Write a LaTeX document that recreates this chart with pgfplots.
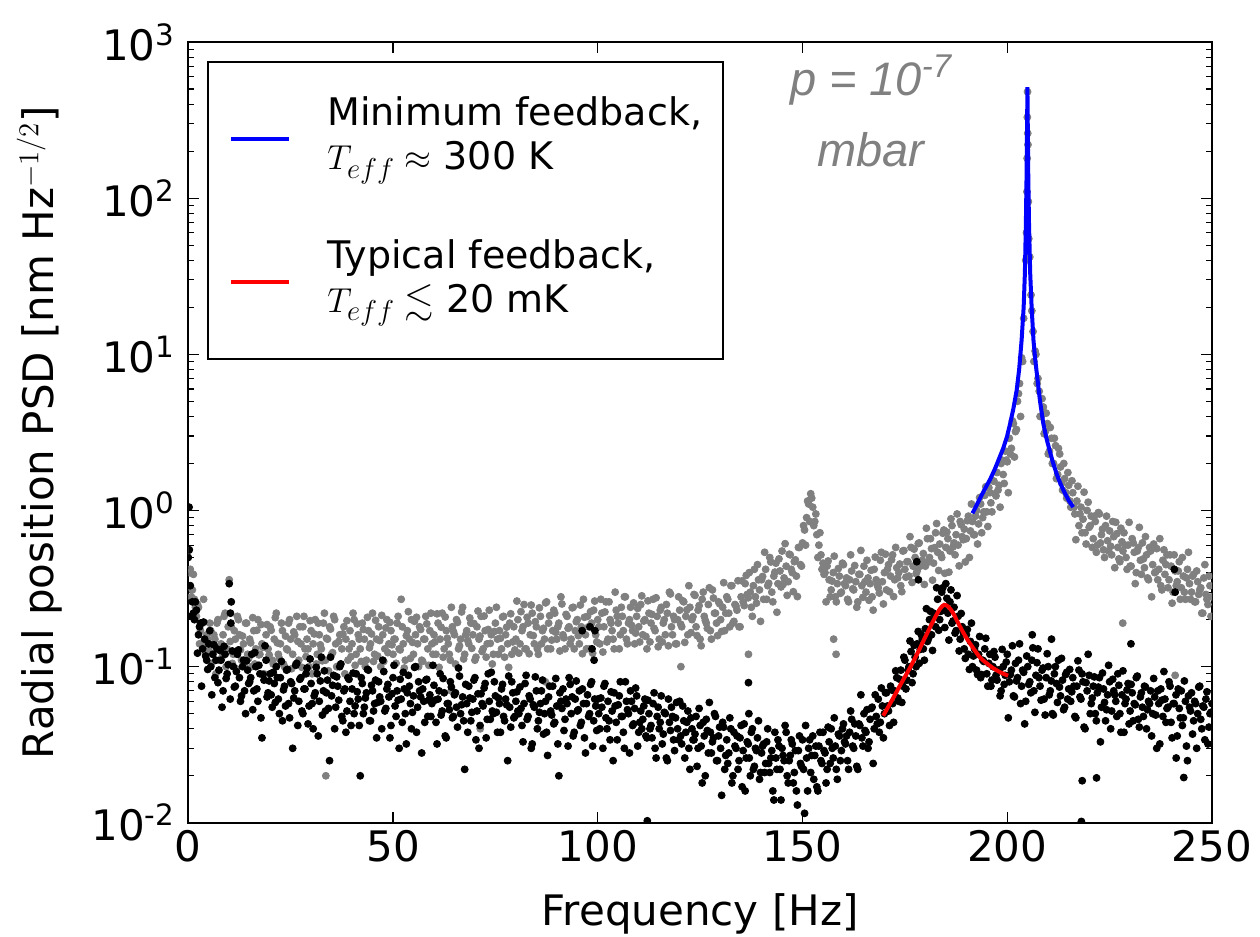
\documentclass[border=0pt]{standalone}
\usepackage{fontspec}
\setmainfont{DejaVu Sans}
\newfontfamily\annfont{Liberation Sans}
\usepackage{amsmath,amssymb}
\usepackage{pgfplots}
\pgfplotsset{compat=1.18}
\usetikzlibrary{calc}
\definecolor{mgray}{RGB}{128,128,128}

% gray: minimum feedback, black: typical feedback
\pgfplotstableread{
f psd
0.0 0.55
0.5 0.42
1.0 0.31
1.5 0.27
2.0 0.21
2.5 0.24
3.0 0.17
3.5 0.19
4.0 0.14
4.5 0.16
5.0 0.13
5.5 0.17
6.0 0.12
6.5 0.15
7.0 0.19
7.5 0.11
8.0 0.14
8.5 0.16
9.0 0.22
9.5 0.13
10.0 0.36
10.5 0.18
11.0 0.12
11.5 0.15
12.0 0.21
12.5 0.16
13.0 0.11
13.5 0.14
14.0 0.19
14.5 0.12
15.0 0.15
15.5 0.10
16.0 0.17
16.5 0.13
17.0 0.20
17.5 0.12
18.0 0.14
18.5 0.09
19.0 0.16
19.5 0.13
20.0 0.18
20.5 0.11
21.0 0.15
21.5 0.22
22.0 0.12
22.5 0.14
23.0 0.17
23.5 0.10
24.0 0.13
24.5 0.19
25.0 0.15
25.5 0.12
26.0 0.16
26.5 0.21
27.0 0.11
27.5 0.14
28.0 0.18
28.5 0.13
29.0 0.15
29.5 0.10
30.0 0.17
30.5 0.14
31.0 0.20
31.5 0.12
32.0 0.16
32.5 0.13
33.0 0.19
33.5 0.11
34.0 0.15
34.5 0.18
35.0 0.12
35.5 0.21
36.0 0.14
36.5 0.10
37.0 0.16
37.5 0.13
38.0 0.18
38.5 0.15
39.0 0.11
39.5 0.17
40.0 0.14
40.5 0.20
41.0 0.12
41.5 0.16
42.0 0.13
42.5 0.19
43.0 0.15
43.5 0.11
44.0 0.17
44.5 0.14
45.0 0.22
45.5 0.12
46.0 0.15
46.5 0.18
47.0 0.10
47.5 0.16
48.0 0.13
48.5 0.20
49.0 0.14
49.5 0.17
50.0 0.12
50.5 0.15
51.0 0.19
51.5 0.13
52.0 0.27
52.5 0.14
53.0 0.11
53.5 0.17
54.0 0.15
54.5 0.20
55.0 0.12
55.5 0.16
56.0 0.14
56.5 0.18
57.0 0.11
57.5 0.15
58.0 0.21
58.5 0.13
59.0 0.17
59.5 0.14
60.0 0.16
60.5 0.12
61.0 0.19
61.5 0.15
62.0 0.22
62.5 0.13
63.0 0.17
63.5 0.14
64.0 0.11
64.5 0.18
65.0 0.16
65.5 0.20
66.0 0.13
66.5 0.15
67.0 0.24
67.5 0.12
68.0 0.17
68.5 0.14
69.0 0.19
69.5 0.16
70.0 0.11
70.5 0.18
71.0 0.15
71.5 0.21
72.0 0.13
72.5 0.17
73.0 0.14
73.5 0.23
74.0 0.16
74.5 0.12
75.0 0.19
75.5 0.15
76.0 0.17
76.5 0.13
77.0 0.21
77.5 0.16
78.0 0.14
78.5 0.19
79.0 0.12
79.5 0.18
80.0 0.15
80.5 0.20
81.0 0.14
81.5 0.17
82.0 0.25
82.5 0.13
83.0 0.19
83.5 0.16
84.0 0.22
84.5 0.14
85.0 0.18
85.5 0.12
86.0 0.21
86.5 0.17
87.0 0.15
87.5 0.26
88.0 0.19
88.5 0.13
89.0 0.17
89.5 0.22
90.0 0.15
90.5 0.19
91.0 0.28
91.5 0.16
92.0 0.13
92.5 0.21
93.0 0.18
93.5 0.15
94.0 0.24
94.5 0.17
95.0 0.20
95.5 0.14
96.0 0.18
96.5 0.27
97.0 0.16
97.5 0.21
98.0 0.13
98.5 0.19
99.0 0.23
99.5 0.16
100.0 0.20
100.5 0.14
101.0 0.22
101.5 0.18
102.0 0.26
102.5 0.15
103.0 0.20
103.5 0.17
104.0 0.13
104.5 0.23
105.0 0.19
105.5 0.16
106.0 0.21
106.5 0.28
107.0 0.15
107.5 0.19
108.0 0.24
108.5 0.17
109.0 0.14
109.5 0.21
110.0 0.18
110.5 0.25
111.0 0.16
111.5 0.20
112.0 0.13
112.5 0.22
113.0 0.19
113.5 0.27
114.0 0.17
114.5 0.21
115.0 0.15
115.5 0.24
116.0 0.19
116.5 0.16
117.0 0.22
117.5 0.30
118.0 0.18
118.5 0.21
119.0 0.14
119.5 0.20
120.0 0.23
120.5 0.18
121.0 0.26
121.5 0.21
122.0 0.16
122.5 0.24
123.0 0.20
123.5 0.29
124.0 0.18
124.5 0.23
125.0 0.15
125.5 0.27
126.0 0.21
126.5 0.19
127.0 0.25
127.5 0.17
128.0 0.31
128.5 0.22
129.0 0.19
129.5 0.26
130.0 0.20
130.5 0.24
131.0 0.17
131.5 0.28
132.0 0.22
132.5 0.33
133.0 0.19
133.5 0.25
134.0 0.23
134.5 0.18
135.0 0.28
135.5 0.26
136.0 0.34
136.5 0.29
137.0 0.40
137.5 0.24
138.0 0.33
138.5 0.28
139.0 0.45
139.5 0.31
140.0 0.36
140.5 0.27
141.0 0.42
141.5 0.33
142.0 0.50
142.5 0.30
143.0 0.38
143.5 0.46
144.0 0.34
144.5 0.41
145.0 0.55
145.5 0.37
146.0 0.44
146.5 0.35
147.0 0.52
147.5 0.40
148.0 0.47
148.5 0.38
149.0 0.58
149.5 0.45
150.0 0.62
150.5 0.75
151.0 0.90
151.5 1.10
152.0 1.28
152.5 1.05
153.0 0.85
153.5 0.70
154.0 0.60
154.5 0.52
155.0 0.46
155.5 0.40
156.0 0.44
156.5 0.36
157.0 0.31
157.5 0.40
158.0 0.28
158.5 0.34
159.0 0.38
159.5 0.30
160.0 0.45
160.5 0.33
161.0 0.27
161.5 0.36
162.0 0.41
162.5 0.31
163.0 0.35
163.5 0.26
164.0 0.39
164.5 0.33
165.0 0.44
165.5 0.30
166.0 0.37
166.5 0.34
167.0 0.28
167.5 0.42
168.0 0.36
168.5 0.32
169.0 0.48
169.5 0.35
170.0 0.40
170.5 0.31
171.0 0.45
171.5 0.38
172.0 0.52
172.5 0.36
173.0 0.43
173.5 0.40
174.0 0.33
174.5 0.55
175.0 0.42
175.5 0.47
176.0 0.38
176.5 0.58
177.0 0.44
177.5 0.50
178.0 0.41
178.5 0.62
179.0 0.47
179.5 0.53
180.0 0.44
180.5 0.66
181.0 0.50
181.5 0.57
182.0 0.46
182.5 0.72
183.0 0.54
183.5 0.61
184.0 0.50
184.5 0.75
185.0 0.58
185.5 0.66
186.0 0.55
186.5 0.80
187.0 0.62
187.5 0.70
188.0 0.60
188.5 0.85
189.0 0.68
189.5 0.76
190.0 0.66
190.5 0.92
191.0 0.74
191.5 0.85
192.0 0.70
192.5 1.00
193.0 0.82
193.5 1.10
194.0 0.90
194.5 1.25
195.0 0.98
195.5 1.40
196.0 1.12
196.5 1.55
197.0 1.28
197.5 1.75
198.0 1.45
198.5 2.00
199.0 1.70
199.5 2.40
200.0 2.05
200.5 2.90
201.0 2.50
201.5 3.60
202.0 3.20
202.5 5.00
203.0 6.50
203.5 9.5
204.0 17
204.5 40
204.7 60
204.8 110
204.85 180
204.9 330
204.95 480
205.0 260
205.05 220
205.15 95
205.25 55
205.5 42
206.0 19
206.5 9.0
207.0 10
207.5 7.0
208.0 4.0
208.5 5.2
209.0 3.1
209.5 4.2
210.0 2.3
210.5 3.4
211.0 2.0
211.5 2.9
212.0 1.6
212.5 2.5
213.0 1.9
213.5 1.35
214.0 1.6
214.5 1.2
215.0 1.45
215.5 1.05
216.0 1.3
216.5 0.95
217.0 1.15
217.5 0.80
218.0 1.05
218.5 0.88
219.0 0.72
219.5 1.00
220.0 0.78
220.5 0.92
221.0 0.66
221.5 0.85
222.0 0.60
222.5 0.95
223.0 0.70
223.5 0.56
224.0 0.80
224.5 0.64
225.0 0.74
225.5 0.52
226.0 0.68
226.5 0.84
227.0 0.58
227.5 0.47
228.0 0.63
228.5 0.72
229.0 0.50
229.5 0.60
230.0 0.44
230.5 0.66
231.0 0.54
231.5 0.40
232.0 0.58
232.5 0.48
233.0 0.62
233.5 0.43
234.0 0.52
234.5 0.36
235.0 0.55
235.5 0.45
236.0 0.40
236.5 0.57
237.0 0.42
237.5 0.33
238.0 0.48
238.5 0.39
239.0 0.52
239.5 0.36
240.0 0.44
240.5 0.30
241.0 0.41
241.5 0.35
242.0 0.47
242.5 0.32
243.0 0.38
243.5 0.27
244.0 0.42
244.5 0.34
245.0 0.30
245.5 0.39
246.0 0.26
246.5 0.35
247.0 0.31
247.5 0.22
248.0 0.37
248.5 0.29
249.0 0.25
249.5 0.33
250.0 0.28
33.6 0.020
71.3 0.040
64.2 0.070
87.2 0.080
120.3 0.100
136.8 0.120
157.6 0.150
158.2 0.120
228.2 0.190
241.0 0.088
}\grayset

\pgfplotstableread{
f psd
0.25 0.40
0.75 0.28
1.25 0.39
1.75 0.24
2.25 0.25
2.75 0.14
3.25 0.19
3.75 0.27
4.25 0.12
4.75 0.15
5.25 0.19
5.75 0.105
6.25 0.16
6.75 0.09
7.25 0.20
7.75 0.13
8.25 0.115
8.75 0.21
9.25 0.10
9.75 0.18
10.25 0.145
10.75 0.105
11.25 0.17
11.75 0.097
12.25 0.20
12.75 0.128
13.25 0.157
13.75 0.104
14.25 0.19
14.75 0.113
15.25 0.142
15.75 0.206
16.25 0.104
16.75 0.171
17.25 0.119
17.75 0.186
18.25 0.133
18.75 0.133
19.25 0.186
19.75 0.119
20.25 0.171
20.75 0.104
21.25 0.206
21.75 0.142
22.25 0.113
22.75 0.19
23.25 0.104
23.75 0.157
24.25 0.128
24.75 0.20
25.25 0.097
25.75 0.167
26.25 0.104
26.75 0.145
27.25 0.18
27.75 0.099
28.25 0.21
28.75 0.116
29.25 0.13
29.75 0.197
30.25 0.09
30.75 0.162
31.25 0.104
31.75 0.19
32.25 0.138
32.75 0.109
33.25 0.22
33.75 0.152
34.25 0.094
34.75 0.174
35.25 0.123
35.75 0.20
36.25 0.10
36.75 0.145
37.25 0.104
37.75 0.162
38.25 0.09
38.75 0.197
39.25 0.13
39.75 0.116
40.25 0.22
40.75 0.102
41.25 0.188
41.75 0.15
42.25 0.108
42.75 0.173
43.25 0.10
43.75 0.207
44.25 0.132
44.75 0.162
45.25 0.108
45.75 0.198
46.25 0.117
46.75 0.147
47.25 0.213
47.75 0.108
48.25 0.177
48.75 0.123
49.25 0.192
49.75 0.138
50.25 0.15
50.75 0.105
51.25 0.21
51.75 0.128
52.25 0.18
52.75 0.098
53.25 0.158
53.75 0.225
54.25 0.113
54.75 0.143
55.25 0.195
55.75 0.207
56.25 0.10
56.75 0.173
57.25 0.108
57.75 0.15
58.25 0.188
58.75 0.102
59.25 0.22
59.75 0.12
60.25 0.144
60.75 0.218
61.25 0.099
61.75 0.179
62.25 0.115
62.75 0.208
63.25 0.152
63.75 0.12
64.25 0.24
64.75 0.168
65.25 0.104
65.75 0.192
66.25 0.136
66.75 0.224
67.25 0.112
67.75 0.16
68.25 0.147
68.75 0.205
69.25 0.131
69.75 0.189
70.25 0.115
70.75 0.227
71.25 0.157
71.75 0.125
72.25 0.211
72.75 0.115
73.25 0.173
73.75 0.141
74.25 0.104
74.75 0.168
75.25 0.24
75.75 0.12
76.25 0.152
76.75 0.208
77.25 0.115
77.75 0.179
78.25 0.099
78.75 0.218
79.25 0.144
79.75 0.128
80.25 0.263
80.75 0.122
81.25 0.225
81.75 0.18
82.25 0.13
82.75 0.207
83.25 0.121
83.75 0.248
84.25 0.158
84.75 0.194
85.25 0.13
85.75 0.238
86.25 0.14
86.75 0.176
87.25 0.256
87.75 0.13
88.25 0.212
88.75 0.148
89.25 0.23
89.75 0.166
90.25 0.18
90.75 0.126
91.25 0.252
91.75 0.153
92.25 0.216
92.75 0.176
93.25 0.14
93.75 0.238
94.25 0.13
94.75 0.194
95.25 0.158
95.75 0.248
96.25 0.121
96.75 0.207
97.25 0.13
97.75 0.18
98.25 0.225
98.75 0.122
99.25 0.263
99.75 0.144
100.25 0.18
100.75 0.27
101.25 0.124
101.75 0.224
102.25 0.144
102.75 0.26
103.25 0.19
103.75 0.15
104.25 0.30
104.75 0.21
105.25 0.13
105.75 0.24
106.25 0.17
106.75 0.28
107.25 0.14
107.75 0.20
108.25 0.184
108.75 0.256
109.25 0.164
109.75 0.236
110.25 0.144
110.75 0.284
111.25 0.196
111.75 0.156
112.25 0.264
112.75 0.144
113.25 0.216
113.75 0.176
114.25 0.276
114.75 0.134
115.25 0.23
115.75 0.144
116.25 0.20
116.75 0.25
117.25 0.136
117.75 0.292
118.25 0.16
118.75 0.20
119.25 0.14
119.75 0.28
120.25 0.187
120.75 0.264
121.25 0.143
121.75 0.231
122.25 0.33
122.75 0.165
123.25 0.209
123.75 0.286
124.25 0.158
124.75 0.246
125.25 0.136
125.75 0.30
126.25 0.198
126.75 0.176
127.25 0.32
127.75 0.15
128.25 0.275
128.75 0.22
129.25 0.158
129.75 0.253
130.25 0.168
130.75 0.345
131.25 0.22
131.75 0.27
132.25 0.18
132.75 0.33
133.25 0.195
133.75 0.245
134.25 0.355
134.75 0.18
135.25 0.354
135.75 0.246
136.25 0.384
136.75 0.276
137.25 0.30
137.75 0.21
138.25 0.42
138.75 0.255
139.25 0.36
139.75 0.195
140.25 0.378
140.75 0.54
141.25 0.27
141.75 0.342
142.25 0.468
142.75 0.26
143.25 0.403
143.75 0.223
144.25 0.49
144.75 0.324
145.25 0.336
145.75 0.613
146.25 0.286
146.75 0.525
147.25 0.42
147.75 0.302
148.25 0.483
148.75 0.281
149.25 0.58
149.75 0.44
150.25 0.80
150.75 0.60
151.25 1.15
151.75 0.85
152.25 1.20
152.75 0.80
153.25 0.95
153.75 0.50
154.25 0.72
154.75 0.42
155.25 0.39
155.75 0.26
156.25 0.475
156.75 0.28
157.25 0.353
157.75 0.51
158.25 0.26
158.75 0.425
159.25 0.295
159.75 0.46
160.25 0.34
160.75 0.37
161.25 0.26
161.75 0.52
162.25 0.315
162.75 0.444
163.25 0.24
163.75 0.39
164.25 0.555
164.75 0.278
165.25 0.35
165.75 0.48
166.25 0.266
166.75 0.414
167.25 0.23
167.75 0.503
168.25 0.333
168.75 0.296
169.25 0.54
169.75 0.252
170.25 0.525
170.75 0.42
171.25 0.302
171.75 0.483
172.25 0.281
172.75 0.58
173.25 0.37
173.75 0.454
174.25 0.302
174.75 0.554
175.25 0.374
175.75 0.47
176.25 0.68
176.75 0.346
177.25 0.566
177.75 0.394
178.25 0.614
178.75 0.44
179.25 0.48
179.75 0.336
180.25 0.77
180.75 0.468
181.25 0.66
181.75 0.358
182.25 0.578
182.75 0.825
183.25 0.413
183.75 0.523
184.25 0.715
184.75 0.396
185.25 0.728
185.75 0.403
186.25 0.884
186.75 0.585
187.25 0.52
187.75 0.95
188.25 0.442
188.75 0.81
189.25 0.65
189.75 0.468
190.25 0.86
190.75 0.50
191.25 1.10
191.75 0.70
192.25 0.92
192.75 0.61
193.25 1.21
193.75 0.72
194.25 0.98
194.75 1.42
195.25 0.79
195.75 1.30
196.25 0.98
196.75 1.54
197.25 1.24
197.75 1.35
198.25 1.05
198.75 2.10
199.25 1.49
199.75 2.10
200.25 1.30
200.75 2.30
201.25 3.75
201.75 2.20
202.25 3.30
202.75 5.60
203.25 4.00
203.75 9.0
205.8 24
206.3 14
206.8 10.5
207.3 6.5
207.8 5.8
208.3 4.0
208.8 4.6
209.3 3.2
209.8 3.6
210.3 2.4
210.8 2.9
211.3 2.0
211.8 2.6
212.3 1.7
212.8 2.3
213.3 1.5
213.8 2.0
214.3 1.3
214.8 1.75
215.3 1.15
215.8 1.55
216.3 1.05
216.75 0.65
217.25 1.43
217.75 0.95
218.25 0.72
218.75 1.31
219.25 0.61
219.75 1.13
220.25 0.80
220.75 0.58
221.25 0.92
221.75 0.54
222.25 0.97
222.75 0.62
223.25 0.76
223.75 0.50
224.25 0.92
224.75 0.55
225.25 0.59
225.75 0.85
226.25 0.43
226.75 0.71
227.25 0.49
227.75 0.77
228.25 0.55
228.75 0.60
229.25 0.42
229.75 0.84
230.25 0.44
230.75 0.62
231.25 0.34
231.75 0.55
232.25 0.78
232.75 0.39
233.25 0.49
233.75 0.68
234.25 0.37
234.75 0.58
235.25 0.28
235.75 0.61
236.25 0.405
236.75 0.36
237.25 0.66
237.75 0.31
238.25 0.56
238.75 0.45
239.25 0.32
239.75 0.52
240.25 0.255
240.75 0.52
241.25 0.33
241.75 0.41
242.25 0.27
242.75 0.50
243.25 0.30
243.75 0.37
244.25 0.54
244.75 0.27
245.25 0.38
245.75 0.26
246.25 0.41
246.75 0.29
247.25 0.32
247.75 0.22
248.25 0.45
248.75 0.27
249.25 0.38
249.75 0.21
}\graysetb

\pgfplotstableread{
f psd
0.0 0.50
0.2 1.05
0.5 0.33
1.0 0.26
1.5 0.20
2.0 0.23
2.5 0.16
3.0 0.19
3.5 0.13
4.0 0.15
4.5 0.11
5.0 0.14
5.5 0.10
6.0 0.12
6.5 0.085
7.0 0.13
7.5 0.095
8.0 0.11
8.5 0.07
9.0 0.12
9.5 0.09
10.0 0.34
10.3 0.22
10.4 0.19
10.5 0.26
11.0 0.10
11.5 0.075
12.0 0.12
12.5 0.085
13.0 0.065
13.5 0.11
14.0 0.05
14.5 0.095
15.0 0.08
15.5 0.12
16.0 0.07
16.5 0.10
17.0 0.06
17.5 0.09
18.0 0.035
18.5 0.082
19.0 0.11
19.5 0.068
20.0 0.09
20.5 0.055
21.0 0.078
21.5 0.10
22.0 0.062
22.5 0.085
23.0 0.045
23.5 0.075
24.0 0.095
24.5 0.058
25.0 0.08
25.5 0.03
26.0 0.07
26.5 0.105
27.0 0.06
27.5 0.085
28.0 0.05
28.5 0.072
29.0 0.098
29.5 0.056
30.0 0.078
30.5 0.04
31.0 0.068
31.5 0.09
32.0 0.06
32.5 0.115
33.0 0.07
33.5 0.052
34.0 0.082
34.5 0.025
35.0 0.065
35.5 0.088
36.0 0.055
36.5 0.075
37.0 0.10
37.5 0.048
38.0 0.07
38.5 0.038
39.0 0.085
39.5 0.06
40.0 0.072
40.5 0.05
41.0 0.09
41.5 0.062
42.0 0.02
42.5 0.078
43.0 0.055
43.5 0.068
44.0 0.095
44.5 0.045
45.0 0.07
45.5 0.058
46.0 0.035
46.5 0.08
47.0 0.06
47.5 0.11
48.0 0.052
48.5 0.072
49.0 0.064
49.5 0.042
50.0 0.085
50.5 0.056
51.0 0.07
51.5 0.03
52.0 0.062
52.5 0.092
53.0 0.05
53.5 0.068
54.0 0.075
54.5 0.04
55.0 0.065
55.5 0.10
56.0 0.055
56.5 0.07
57.0 0.028
57.5 0.06
58.0 0.082
58.5 0.048
59.0 0.066
59.5 0.058
60.0 0.076
60.5 0.044
61.0 0.062
61.5 0.09
62.0 0.052
62.5 0.068
63.0 0.035
63.5 0.058
64.0 0.08
64.5 0.047
65.0 0.066
65.5 0.055
66.0 0.098
66.5 0.05
67.0 0.064
67.5 0.022
68.0 0.058
68.5 0.075
69.0 0.045
69.5 0.062
70.0 0.085
70.5 0.052
71.0 0.03
71.5 0.067
72.0 0.056
72.5 0.078
73.0 0.046
73.5 0.06
74.0 0.092
74.5 0.05
75.0 0.065
75.5 0.038
76.0 0.058
76.5 0.072
77.0 0.048
77.5 0.062
78.0 0.025
78.5 0.055
79.0 0.08
79.5 0.047
80.0 0.06
80.5 0.052
81.0 0.074
81.5 0.042
82.0 0.058
82.5 0.088
83.0 0.048
83.5 0.062
84.0 0.032
84.5 0.055
85.0 0.07
85.5 0.045
86.0 0.058
86.5 0.082
87.0 0.05
87.5 0.038
88.0 0.064
88.5 0.052
89.0 0.075
89.5 0.044
90.0 0.056
90.5 0.02
91.0 0.06
91.5 0.072
92.0 0.046
92.5 0.058
93.0 0.085
93.5 0.05
94.0 0.036
94.5 0.062
95.0 0.052
95.5 0.07
96.0 0.044
96.2 0.17
96.5 0.058
97.0 0.028
97.5 0.066
98.0 0.05
98.1 0.18
98.5 0.08
98.6 0.13
99.0 0.045
99.1 0.11
99.3 0.17
99.5 0.056
100.0 0.062
100.5 0.04
101.0 0.055
101.5 0.075
102.0 0.047
102.5 0.06
103.0 0.034
103.5 0.052
104.0 0.068
104.5 0.044
105.0 0.057
105.5 0.08
106.0 0.048
106.5 0.03
107.0 0.06
107.5 0.05
108.0 0.07
108.5 0.042
109.0 0.054
109.5 0.065
110.0 0.038
110.5 0.052
111.0 0.046
111.5 0.062
112.0 0.035
112.1 0.0103
112.5 0.05
113.0 0.042
113.5 0.058
114.0 0.03
114.5 0.048
115.0 0.04
115.5 0.065
116.0 0.037
116.5 0.05
117.0 0.025
117.5 0.044
118.0 0.055
118.5 0.034
119.0 0.047
119.5 0.04
120.0 0.06
120.5 0.032
121.0 0.045
121.5 0.038
122.0 0.052
122.5 0.022
123.0 0.04
123.5 0.034
124.0 0.048
124.5 0.03
125.0 0.042
125.5 0.018
126.0 0.036
126.5 0.046
127.0 0.028
127.5 0.038
128.0 0.033
128.5 0.05
129.0 0.025
129.5 0.036
130.0 0.03
130.5 0.044
131.0 0.022
131.5 0.034
132.0 0.028
132.5 0.04
133.0 0.02
133.5 0.031
134.0 0.036
134.5 0.025
135.0 0.042
135.5 0.029
136.0 0.016
136.5 0.033
136.8 0.079
136.9 0.050
137.0 0.026
137.5 0.038
138.0 0.022
138.5 0.03
139.0 0.035
139.5 0.019
140.0 0.028
140.5 0.032
141.0 0.024
141.5 0.04
142.0 0.021
142.5 0.029
143.0 0.014
143.5 0.026
144.0 0.034
144.5 0.022
145.0 0.03
145.5 0.025
146.0 0.038
146.5 0.018
147.0 0.027
147.5 0.032
148.0 0.021
148.5 0.016
149.0 0.029
149.5 0.024
150.0 0.034
150.5 0.0115
151.0 0.026
151.5 0.03
152.0 0.021
152.5 0.036
153.0 0.027
153.5 0.017
154.0 0.031
154.5 0.025
155.0 0.038
155.5 0.028
156.0 0.022
156.5 0.033
157.0 0.04
157.5 0.026
158.0 0.031
158.5 0.019
159.0 0.036
159.5 0.029
160.0 0.043
160.5 0.032
161.0 0.025
161.5 0.038
162.0 0.046
162.5 0.03
163.0 0.036
163.5 0.022
164.0 0.042
164.5 0.035
165.0 0.05
165.5 0.038
166.0 0.03
166.5 0.046
167.0 0.055
167.5 0.04
168.0 0.048
168.5 0.062
169.0 0.044
169.5 0.056
170.0 0.05
170.5 0.068
171.0 0.052
171.5 0.075
172.0 0.058
172.5 0.07
173.0 0.085
173.5 0.06
174.0 0.095
174.5 0.075
175.0 0.11
175.5 0.082
176.0 0.10
176.5 0.125
177.0 0.09
177.5 0.115
177.9 0.47
178.0 0.14
178.3 0.36
178.5 0.105
179.0 0.16
179.5 0.13
180.0 0.175
180.5 0.145
181.0 0.20
181.5 0.16
182.0 0.22
182.5 0.18
183.0 0.27
183.5 0.20
184.0 0.30
184.5 0.23
185.0 0.34
185.5 0.22
186.0 0.26
186.5 0.19
187.0 0.24
187.5 0.17
188.0 0.21
188.5 0.15
189.0 0.18
189.5 0.13
190.0 0.16
190.5 0.12
191.0 0.145
191.5 0.10
192.0 0.13
192.5 0.095
193.0 0.12
193.5 0.085
194.0 0.11
194.5 0.13
195.0 0.09
195.5 0.105
196.0 0.075
196.5 0.10
197.0 0.115
197.5 0.082
198.0 0.095
198.5 0.07
199.0 0.10
199.5 0.088
200.0 0.12
200.5 0.08
201.0 0.095
201.5 0.065
202.0 0.105
202.5 0.085
203.0 0.14
203.5 0.075
204.0 0.092
204.5 0.06
205.0 0.10
205.5 0.08
206.0 0.11
206.1 0.16
206.5 0.07
207.0 0.088
207.5 0.13
208.0 0.075
208.5 0.095
209.0 0.062
209.5 0.085
210.0 0.10
210.5 0.07
210.8 0.15
211.0 0.05
211.5 0.09
212.0 0.078
212.5 0.11
213.0 0.065
213.5 0.082
214.0 0.055
214.5 0.092
215.0 0.072
215.5 0.06
216.0 0.085
216.5 0.048
217.0 0.075
217.5 0.095
218.0 0.062
218.1 0.0102
218.3 0.0186
218.5 0.08
219.0 0.04
219.5 0.07
220.0 0.088
220.5 0.058
221.0 0.075
221.5 0.05
221.8 0.0194
222.0 0.068
222.5 0.085
223.0 0.055
223.5 0.072
224.0 0.045
224.5 0.066
225.0 0.08
225.5 0.052
226.0 0.07
226.5 0.06
227.0 0.09
227.5 0.05
228.0 0.066
228.5 0.038
229.0 0.062
229.5 0.078
230.0 0.052
230.2 0.14
230.5 0.068
231.0 0.058
231.5 0.085
232.0 0.046
232.5 0.064
233.0 0.055
233.5 0.075
234.0 0.04
234.5 0.06
235.0 0.07
235.5 0.05
236.0 0.064
236.5 0.03
237.0 0.058
237.5 0.072
238.0 0.048
238.5 0.062
239.0 0.054
239.5 0.08
240.0 0.044
240.5 0.058
240.8 0.42
241.0 0.30
241.2 0.066
241.5 0.036
242.0 0.054
242.5 0.07
243.0 0.047
243.1 0.0195
243.5 0.06
244.0 0.025
244.5 0.055
245.0 0.068
245.5 0.045
246.0 0.058
246.5 0.05
247.0 0.075
247.5 0.04
248.0 0.055
248.5 0.062
249.0 0.032
249.5 0.05
250.0 0.058
}\blackset

\pgfplotstableread{
f psd
0.25 0.56
0.75 0.21
1.25 0.22
1.75 0.26
2.25 0.122
2.75 0.18
3.25 0.075
3.75 0.193
4.25 0.117
4.75 0.096
5.25 0.17
5.75 0.066
6.25 0.138
6.75 0.11
7.25 0.079
7.75 0.127
8.25 0.055
8.75 0.135
9.25 0.084
9.75 0.103
10.25 0.062
10.75 0.126
11.25 0.074
11.75 0.093
12.25 0.128
12.75 0.06
13.25 0.10
13.75 0.07
14.25 0.109
14.75 0.078
15.25 0.085
15.75 0.053
16.25 0.123
16.75 0.072
17.25 0.102
17.75 0.047
18.25 0.089
18.75 0.136
19.25 0.064
19.75 0.081
20.25 0.066
20.75 0.092
21.25 0.059
21.75 0.085
22.25 0.05
22.75 0.108
23.25 0.071
23.75 0.056
24.25 0.096
24.75 0.047
25.25 0.078
25.75 0.063
26.25 0.102
26.75 0.042
27.25 0.083
27.75 0.052
28.25 0.072
28.75 0.09
29.25 0.043
29.75 0.112
30.25 0.058
30.75 0.065
31.25 0.099
31.75 0.036
32.25 0.081
32.75 0.049
33.25 0.094
33.75 0.068
34.25 0.054
34.75 0.115
35.25 0.076
35.75 0.04
36.25 0.086
36.75 0.061
37.25 0.104
37.75 0.045
38.25 0.072
38.75 0.052
39.25 0.083
39.75 0.042
40.25 0.091
40.75 0.056
41.25 0.069
41.75 0.042
42.25 0.085
42.75 0.05
43.25 0.063
43.75 0.096
44.25 0.045
44.75 0.076
45.25 0.052
45.75 0.082
46.25 0.059
46.75 0.064
47.25 0.04
47.75 0.093
48.25 0.054
48.75 0.077
49.25 0.035
49.75 0.067
50.25 0.102
50.75 0.048
51.25 0.061
51.75 0.083
52.25 0.044
52.75 0.072
53.25 0.032
53.75 0.088
54.25 0.058
54.75 0.051
55.25 0.099
55.75 0.038
56.25 0.08
56.75 0.064
57.25 0.072
57.75 0.044
58.25 0.083
58.75 0.061
59.25 0.048
59.75 0.102
60.25 0.061
60.75 0.032
61.25 0.07
61.75 0.049
62.25 0.084
62.75 0.036
63.25 0.058
63.75 0.053
64.25 0.074
64.75 0.048
65.25 0.068
65.75 0.041
66.25 0.087
66.75 0.057
67.25 0.045
67.75 0.077
68.25 0.038
68.75 0.063
69.25 0.051
69.75 0.082
70.25 0.034
70.75 0.067
71.25 0.042
71.75 0.058
72.25 0.073
72.75 0.035
73.25 0.09
73.75 0.046
74.25 0.052
74.75 0.08
75.25 0.051
75.75 0.063
76.25 0.038
76.75 0.077
77.25 0.045
77.75 0.057
78.25 0.087
78.75 0.041
79.25 0.068
79.75 0.048
80.25 0.069
80.75 0.05
81.25 0.054
81.75 0.033
82.25 0.078
82.75 0.046
83.25 0.065
83.75 0.03
84.25 0.057
84.75 0.086
85.25 0.04
85.75 0.051
86.25 0.07
86.75 0.037
87.25 0.06
87.75 0.027
88.25 0.075
88.75 0.049
89.25 0.043
89.75 0.084
90.25 0.032
90.75 0.068
91.25 0.054
91.75 0.039
92.25 0.062
92.75 0.031
93.25 0.077
93.75 0.064
94.25 0.038
94.75 0.081
95.25 0.053
95.75 0.042
96.25 0.072
96.75 0.035
97.25 0.058
97.75 0.048
98.25 0.077
98.75 0.031
99.25 0.062
99.75 0.039
100.25 0.05
100.75 0.063
101.25 0.03
101.75 0.078
102.25 0.04
102.75 0.045
103.25 0.069
103.75 0.025
104.25 0.056
104.75 0.034
105.25 0.065
105.75 0.048
106.25 0.038
106.75 0.08
107.25 0.053
107.75 0.028
108.25 0.06
108.75 0.043
109.25 0.073
109.75 0.031
110.25 0.044
110.75 0.04
111.25 0.056
111.75 0.036
112.25 0.061
112.75 0.04
113.25 0.035
113.75 0.068
114.25 0.026
114.75 0.055
115.25 0.044
115.75 0.032
116.25 0.051
116.75 0.026
117.25 0.062
117.75 0.039
118.25 0.048
118.75 0.029
119.25 0.059
119.75 0.034
120.25 0.036
120.75 0.056
121.25 0.026
121.75 0.044
122.25 0.03
122.75 0.047
123.25 0.034
123.75 0.037
124.25 0.023
124.75 0.054
125.25 0.031
125.75 0.044
126.25 0.02
126.75 0.039
127.25 0.059
127.75 0.028
128.25 0.035
128.75 0.048
129.25 0.025
129.75 0.041
130.25 0.015
130.75 0.041
131.25 0.027
131.75 0.024
132.25 0.047
132.75 0.018
133.25 0.038
133.75 0.03
134.25 0.022
134.75 0.035
135.25 0.017
135.75 0.043
136.25 0.026
136.75 0.032
137.25 0.02
137.75 0.04
138.25 0.023
138.75 0.029
139.25 0.045
139.75 0.021
140.25 0.031
140.75 0.021
141.25 0.033
141.75 0.024
142.25 0.026
142.75 0.016
143.25 0.038
143.75 0.022
144.25 0.031
144.75 0.014
145.25 0.027
145.75 0.042
146.25 0.02
146.75 0.025
147.25 0.034
147.75 0.018
148.25 0.029
148.75 0.013
149.25 0.036
149.75 0.023
150.25 0.022
150.75 0.042
151.25 0.016
151.75 0.034
152.25 0.027
152.75 0.019
153.25 0.031
153.75 0.016
154.25 0.038
154.75 0.024
155.25 0.029
155.75 0.018
156.25 0.041
156.75 0.024
157.25 0.03
157.75 0.047
158.25 0.022
158.75 0.037
159.25 0.025
159.75 0.04
160.25 0.033
160.75 0.036
161.25 0.022
161.75 0.052
162.25 0.031
162.75 0.043
163.25 0.023
163.75 0.043
164.25 0.066
164.75 0.031
165.25 0.039
165.75 0.053
166.25 0.033
166.75 0.054
167.25 0.024
167.75 0.066
168.25 0.043
168.75 0.038
169.25 0.073
169.75 0.035
170.25 0.068
170.75 0.056
171.25 0.042
171.75 0.071
172.25 0.044
172.75 0.094
173.25 0.063
173.75 0.083
174.25 0.059
174.75 0.115
175.25 0.072
175.75 0.095
176.25 0.146
176.75 0.079
177.25 0.137
177.75 0.10
178.25 0.168
178.75 0.129
179.25 0.15
179.75 0.11
180.25 0.235
180.75 0.151
181.25 0.226
181.75 0.127
182.25 0.215
182.75 0.32
183.25 0.171
183.75 0.226
184.25 0.32
184.75 0.178
185.25 0.274
185.75 0.148
186.25 0.31
186.75 0.196
187.25 0.164
187.75 0.285
188.25 0.126
188.75 0.219
189.25 0.165
189.75 0.113
190.25 0.173
190.75 0.096
191.25 0.19
191.75 0.117
192.25 0.138
192.75 0.089
193.25 0.156
193.75 0.089
194.25 0.108
194.75 0.152
195.25 0.075
195.75 0.12
196.25 0.082
196.75 0.125
197.25 0.088
197.75 0.095
198.25 0.065
198.75 0.129
199.25 0.077
199.75 0.107
200.25 0.047
200.75 0.089
201.25 0.136
201.75 0.064
202.25 0.081
202.75 0.11
203.25 0.058
203.75 0.095
204.25 0.043
204.75 0.117
205.25 0.077
205.75 0.068
206.25 0.132
206.75 0.051
207.25 0.106
207.75 0.085
208.25 0.061
208.75 0.098
209.25 0.049
209.75 0.121
210.25 0.066
210.75 0.081
211.25 0.049
211.75 0.10
212.25 0.059
212.75 0.074
213.25 0.113
213.75 0.053
214.25 0.089
214.75 0.062
215.25 0.096
215.75 0.069
216.25 0.075
216.75 0.047
217.25 0.109
217.75 0.064
218.25 0.09
218.75 0.041
219.25 0.079
219.75 0.12
220.25 0.05
220.75 0.063
221.25 0.086
221.75 0.045
222.25 0.074
222.75 0.033
223.25 0.091
223.75 0.059
224.25 0.053
224.75 0.102
225.25 0.04
225.75 0.083
226.25 0.066
226.75 0.048
227.25 0.076
227.75 0.038
228.25 0.094
228.75 0.058
229.25 0.071
229.75 0.043
230.25 0.077
230.75 0.045
231.25 0.057
231.75 0.087
232.25 0.041
232.75 0.068
233.25 0.048
233.75 0.074
234.25 0.053
234.75 0.058
235.25 0.036
235.75 0.084
236.25 0.049
236.75 0.07
237.25 0.032
237.75 0.061
238.25 0.093
238.75 0.044
239.25 0.055
239.75 0.075
240.25 0.035
240.75 0.058
241.25 0.026
241.75 0.072
242.25 0.047
242.75 0.042
243.25 0.081
243.75 0.031
244.25 0.065
244.75 0.052
245.25 0.037
245.75 0.06
246.25 0.03
246.75 0.074
247.25 0.046
247.75 0.056
248.25 0.034
248.75 0.069
249.25 0.041
249.75 0.051
}\blacksetb

\begin{document}
\begin{tikzpicture}
\begin{axis}[
  scale only axis, width=512pt, height=390.5pt,
  xmin=0, xmax=250, ymode=log, ymin=0.01, ymax=1000,
  clip marker paths=true,
  xtick={0,50,100,150,200,250},
  ytick={0.01,0.1,1,10,100,1000},
  yticklabels={10\textsuperscript{-2},10\textsuperscript{-1},10\textsuperscript{0},10\textsuperscript{1},10\textsuperscript{2},10\textsuperscript{3}},
  minor ytick={0.02,0.03,0.04,0.05,0.06,0.07,0.08,0.09,0.2,0.3,0.4,0.5,0.6,0.7,0.8,0.9,2,3,4,5,6,7,8,9,20,30,40,50,60,70,80,90,200,300,400,500,600,700,800,900},
  axis line style={line width=1.1pt},
  major tick length=5.5pt, minor tick length=3pt,
  every tick/.style={black, line width=0.6pt},
  tick label style={font=\fontsize{21}{25}\selectfont},
  yticklabel style={xshift=-3pt},
  /pgf/number format/assume math mode=true,
  label style={font=\fontsize{21}{25}\selectfont},
  xlabel={Frequency [Hz]},
  ylabel={Radial position PSD [nm Hz$^{-1/2}$]},
  xlabel style={at={(axis description cs:0.5,-0.131)}, anchor=base},
  ylabel style={at={(axis description cs:-0.1318,0.5)}, anchor=base},
  legend style={at={(axis description cs:0.0186,0.9756)}, anchor=north west,
    draw=black, line width=1.1pt, fill=white, inner xsep=10.5pt, inner ysep=16.5pt,
    font=\fontsize{19}{22}\selectfont, row sep=27pt, column sep=18pt,
    nodes={inner sep=0pt, text depth=, text height=}, cells={anchor=west}},
  legend image code/.code={\draw[#1, line width=2pt] (0pt,0pt) -- (29pt,0pt);},
]
\coordinate (ll) at (rel axis cs:0,0);
\coordinate (ur) at (rel axis cs:1,1);

\addplot[only marks, mark=*, mark size=1.75pt, color=mgray, forget plot] table[x=f, y=psd] {\grayset};
\addplot[only marks, mark=*, mark size=1.75pt, color=mgray, forget plot] table[x=f, y=psd] {\graysetb};
\addplot[only marks, mark=*, mark size=1.75pt, color=black, forget plot] table[x=f, y=psd] {\blackset};
\addplot[only marks, mark=*, mark size=1.75pt, color=black, forget plot] table[x=f, y=psd] {\blacksetb};

\addplot[blue, line width=2pt] coordinates {
(191.5,0.96)(192.5,1.08)(193.5,1.22)(194.7,1.4)(195.8,1.58)(197.0,1.85)(198.0,2.15)
(199.0,2.5)(199.9,2.95)(200.7,3.6)(201.5,4.5)(202.3,5.9)(202.9,8.0)(203.5,12.3)
(204.0,20)(204.3,33)(204.55,70)(204.72,144)(204.85,300)(204.92,513)(205.0,300)
(205.12,144)(205.3,70)(205.6,33)(205.95,20)(206.4,12.3)(206.8,9.4)(207.2,7.6)
(208.0,5.0)(208.8,3.6)(209.5,2.95)(210.2,2.5)(211.1,2.05)(212.1,1.7)(213.0,1.48)
(214.0,1.3)(215.0,1.16)(216.1,1.05)};
\addlegendentry{\begin{tabular}{@{}l@{}}Minimum feedback,\\$T_{eff}\approx$ 300 K\end{tabular}}

\addplot[red, line width=2pt, smooth] coordinates {
(169.7,0.0485)(172.0,0.062)(174.2,0.079)(176.3,0.099)(178.4,0.127)(180.4,0.163)
(182.3,0.205)(183.6,0.235)(184.6,0.249)(185.6,0.242)(186.7,0.222)(187.8,0.195)
(189.0,0.17)(190.2,0.15)(191.8,0.13)(193.4,0.114)(195.0,0.105)(196.5,0.098)
(198.3,0.092)(200.2,0.0875)};
\addlegendentry{\begin{tabular}{@{}l@{}}Typical feedback,\\$T_{eff}\lesssim$ 20 mK\end{tabular}}

\node[anchor=base, font=\annfont\itshape\fontsize{23.5}{27}\selectfont, text=mgray]
  at (axis cs:166.75,457) {p = 10\textsuperscript{-7}};
\node[anchor=base, font=\annfont\itshape\fontsize{23.5}{27}\selectfont, text=mgray]
  at (axis cs:166.75,160) {mbar};
\end{axis}
\pgfresetboundingbox
\path ($(ll)+(-94.15pt,-57pt)$) rectangle ($(ur)+(24pt,21pt)$);
\end{tikzpicture}
\end{document}
